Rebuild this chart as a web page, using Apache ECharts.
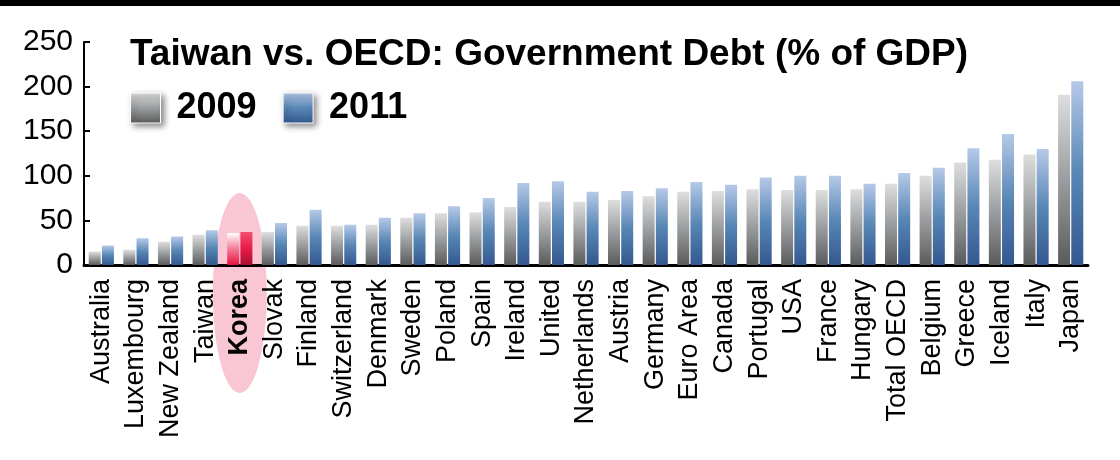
<!DOCTYPE html>
<html>
<head>
<meta charset="utf-8">
<script src="https://cdn.jsdelivr.net/npm/echarts@6/dist/echarts.min.js"></script>
<style>
html,body{margin:0;padding:0;background:#fff;}
#chart{width:1120px;height:460px;}
</style>
</head>
<body>
<div id="chart"></div>
<script>
const titleText = 'Taiwan vs. OECD: Government Debt (% of GDP)';
const categories = ['Australia','Luxembourg','New Zealand','Taiwan','Korea','Slovak','Finland','Switzerland','Denmark','Sweden','Poland','Spain','Ireland','United','Netherlands','Austria','Germany','Euro Area','Canada','Portugal','USA','France','Hungary','Total OECD','Belgium','Greece','Iceland','Italy','Japan'];
const values2009 = [15,17,26,34,36,37,44,44,45,53,58,59,65,71,71,73,77,82,83,85,84,84,85,91,100,115,118,124,191];
const values2011 = [22,30,32,39,37,47,62,45,53,58,66,75,92,94,82,83,86,93,90,98,100,100,91,103,109,131,147,130,206];
const seriesNames = ['2009','2011'];
const highlight = 'Korea';
const yTicks = {min:0, max:250, interval:50};

const FONT = '"Liberation Sans", Arial, sans-serif';
const G = echarts.graphic.LinearGradient;
const grad2009 = new G(0,0,0,1,[{offset:0,color:'#dedede'},{offset:0.5,color:'#9a9d9f'},{offset:1,color:'#5a5b5b'}]);
const grad2011 = new G(0,0,0,1,[{offset:0,color:'#b6c9e8'},{offset:0.5,color:'#5887b5'},{offset:1,color:'#335890'}]);
const gradK2009 = new G(0,0,0,1,[{offset:0,color:'#ffffff'},{offset:0.5,color:'#f47a96'},{offset:1,color:'#e8123f'}]);
const gradK2011 = new G(0,0,0,1,[{offset:0,color:'#f2506e'},{offset:0.5,color:'#e81a48'},{offset:1,color:'#a80f33'}]);

function build(vals, kGrad){
  return vals.map((v,i)=> categories[i]===highlight ? {value:v, itemStyle:{color:kGrad}} : v);
}

const chart = echarts.init(document.getElementById('chart'), null, {renderer:'canvas'});
const option = {
  animation:false,
  backgroundColor:'#fff',
  textStyle:{fontFamily:FONT},
  title:{
    text:titleText, left:130, top:36, padding:0,
    textStyle:{fontFamily:FONT, fontSize:37, fontWeight:'bold', color:'#000'}
  },
  legend:{
    left:130, top:90, padding:0, itemGap:26, itemWidth:30, itemHeight:30,
    icon:'rect',
    itemStyle:{borderColor:'#ffffff', borderWidth:1, shadowBlur:6, shadowColor:'rgba(0,0,0,0.45)', shadowOffsetX:3, shadowOffsetY:3},
    textStyle:{fontFamily:FONT, fontSize:36, fontWeight:'bold', color:'#000', padding:[0,0,0,11]},
    data:seriesNames
  },
  grid:{left:84, right:32, top:42, bottom:195, containLabel:false},
  xAxis:{
    type:'category', data:categories,
    axisLine:{show:true, lineStyle:{color:'#000', width:3}},
    axisTick:{show:false},
    axisLabel:{
      interval:0, rotate:90, margin:14, fontSize:27, color:'#000', fontFamily:FONT,
      formatter:v=> v===highlight ? '{b|'+v+'}' : v,
      rich:{b:{fontWeight:'bold', fontSize:27, color:'#000', fontFamily:FONT}}
    }
  },
  yAxis:{
    type:'value', min:yTicks.min, max:yTicks.max, interval:yTicks.interval,
    axisLine:{show:true, lineStyle:{color:'#000', width:2}},
    axisTick:{show:true, inside:true, length:6, lineStyle:{color:'#000', width:2}},
    splitLine:{show:false},
    axisLabel:{fontSize:30, color:'#000', margin:11, fontFamily:FONT}
  },
  series:[
    {name:seriesNames[0], type:'bar', barWidth:12, barGap:'10%', itemStyle:{color:grad2009}, data:build(values2009, gradK2009), z:3},
    {name:seriesNames[1], type:'bar', barWidth:12, barGap:'10%', itemStyle:{color:grad2011}, data:build(values2011, gradK2011), z:3}
  ]
};
chart.setOption(option);

const kx = chart.convertToPixel({xAxisIndex:0}, highlight);
const y0 = chart.convertToPixel({yAxisIndex:0}, 0);
chart.setOption({
  graphic:[
    {type:'rect', left:0, top:0, z:10, shape:{width:1120, height:6}, style:{fill:'#000'}},
    {type:'circle', x:kx, y:y0+28, scaleX:0.27, scaleY:1, z:-10, shape:{cx:0, cy:0, r:100}, style:{fill:'#f9c7d3'}}
  ]
});
</script>
</body>
</html>
